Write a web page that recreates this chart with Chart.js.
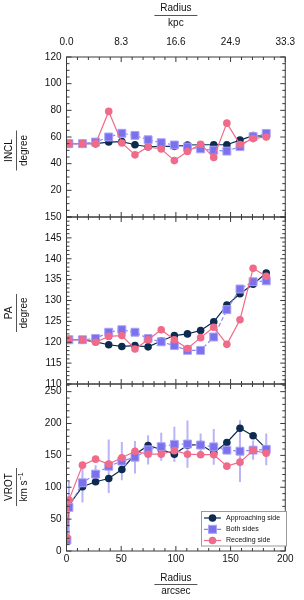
<!DOCTYPE html>
<html><head><meta charset="utf-8">
<script src="https://cdn.jsdelivr.net/npm/chart.js@4.4.1/dist/chart.umd.min.js"></script>
<style>html,body{margin:0;padding:0;background:#fff;}#wrap{width:304px;height:600px;position:relative;}</style>
</head><body><div id="wrap"><canvas id="c" width="304" height="600"></canvas></div>
<script>
// ---- data ----
const radiusArcsec = [0.4, 2.2, 14.6, 26.6, 38.6, 50.6, 62.6, 74.6, 86.6, 98.6, 110.6, 122.6, 134.6, 146.6, 158.6, 170.6, 182.6];
const inclApproaching = [55, 55, 55, 55, 56.2, 56.5, 54.2, 52.7, 53, 53, 54, 54.2, 54.2, 54.2, 57.7, 61, 60.5];
const inclBoth        = [55, 55, 55, 56.2, 60, 62.8, 61.2, 57.9, 55.7, 54, 52.5, 51.1, 50.1, 49.4, 52.8, 60.3, 62.7];
const inclReceding    = [55, 55, 55, 55, 79.2, 55.5, 46.6, 52.5, 51, 42.3, 49.1, 54.6, 44.7, 70.4, 54.4, 58.8, 60];
const paApproaching = [120.6, 120.6, 120.6, 120.1, 119.4, 119.0, 119.2, 118.9, 120.3, 121.6, 122.0, 122.8, 124.9, 128.9, 131.6, 133.9, 136.6];
const paBoth        = [120.6, 120.6, 120.6, 120.9, 122.4, 123.0, 122.4, 120.9, 120.1, 119.2, 118.05, 118.05, 121.25, 127.8, 132.75, 134.5, 134.7];
const paReceding    = [120.6, 120.6, 120.6, 120.0, 121.4, 121.6, 118.4, 120.6, 123.0, 120.6, 118.5, 121.1, 123.6, 119.5, 125.4, 137.7, 135.8];
const vrotApproaching = [20, 72, 100.8, 108.6, 113.8, 127.9, 151.4, 165.5, 159.2, 151.9, 166, 167, 154, 170.2, 192.6, 180.9, 160.5];
const vrotBoth        = [17, 68.4, 107, 120.6, 133, 141, 147.2, 158.7, 163.7, 167.3, 167.8, 166.2, 163.4, 158.2, 156.6, 158.2, 159.5];
const vrotReceding    = [21, 80, 134.7, 144.1, 136.3, 146.2, 156.4, 151.9, 151.9, 157.4, 151.9, 151.1, 151.1, 133.1, 139.4, 157.9, 153.3];
const vrotBothErr     = [5, 42, 31, 14, 42, 30, 25.5, 23, 22, 27.5, 37, 18, 28, 7, 48.5, 15, 25];

const xTicks = [0, 50, 100, 150, 200];
const xTopTickLabels = ['0.0', '8.3', '16.6', '24.9', '33.3'];
const inclTicks = [20, 40, 60, 80, 100, 120];
const paTicks = [110, 115, 120, 125, 130, 135, 140, 145, 150];
const vrotTicks = [0, 50, 100, 150, 200, 250];
const seriesNames = ['Approaching side', 'Both sides', 'Receding side'];

// ---- style ----
const FONT = '"Liberation Sans", Arial, Helvetica, sans-serif';
const C_APP = '#0c2b4f', C_BOTH = '#7b70ee', C_BOTH_LINE = '#8d84f2', C_BOTH_EDGE = '#aaa4f6', C_REC = '#f06b8a';
const C_ERR = 'rgba(128,118,240,0.55)';
const C_FRAME = '#3a3a3a';

function pts(arr) { return radiusArcsec.map((r, i) => ({ x: r, y: arr[i] })); }
function dsApp(arr, axis) { return { label: seriesNames[0], data: pts(arr), yAxisID: axis, xAxisID: 'x', borderColor: C_APP, backgroundColor: C_APP, pointBackgroundColor: C_APP, pointBorderColor: C_APP, pointRadius: 3.8, pointBorderWidth: 0, borderWidth: 1.2, order: 3 }; }
function dsBoth(arr, axis) { return { label: seriesNames[1], data: pts(arr), yAxisID: axis, xAxisID: 'x', borderColor: C_BOTH_LINE, borderDash: [4, 2.5], backgroundColor: C_BOTH, pointStyle: 'rect', pointBackgroundColor: C_BOTH, pointBorderColor: C_BOTH_EDGE, pointRadius: 5.6, pointBorderWidth: 1, borderWidth: 1.2, order: 2 }; }
function dsRec(arr, axis) { return { label: seriesNames[2], data: pts(arr), yAxisID: axis, xAxisID: 'x', borderColor: C_REC, backgroundColor: C_REC, pointBackgroundColor: C_REC, pointBorderColor: C_REC, pointRadius: 3.8, pointBorderWidth: 0, borderWidth: 1.2, order: 1 }; }

function yScale(min, max, ticks, weight) {
  return {
    type: 'linear', position: 'left', stack: 'panels', stackWeight: weight, min: min, max: max, offset: false,
    grid: { display: false, drawTicks: false, tickLength: 0 }, border: { display: false },
    ticks: { font: { family: FONT, size: 10 }, color: '#111', padding: 5, autoSkip: false },
    afterBuildTicks: s => { s.ticks = ticks.map(v => ({ value: v })); },
    afterFit: s => { s.width = 66.5; }
  };
}

function minorList(min, max, step, majors) {
  const out = [];
  for (let v = min; v <= max + 1e-9; v += step) { const r = Math.round(v * 100) / 100; if (!majors.includes(r)) out.push(r); }
  return out;
}

const panelPlugin = {
  id: 'panels',
  beforeDatasetsDraw(chart) {
    const ctx = chart.ctx, xs = chart.scales.x, ys = chart.scales.yVrot, ca = chart.chartArea;
    ctx.save();
    ctx.beginPath(); ctx.rect(ca.left, ys.top, ca.right - ca.left, ys.bottom - ys.top); ctx.clip();
    ctx.strokeStyle = C_ERR; ctx.lineWidth = 2;
    radiusArcsec.forEach((r, i) => {
      const px = xs.getPixelForValue(r);
      ctx.beginPath();
      ctx.moveTo(px, ys.getPixelForValue(vrotBoth[i] - vrotBothErr[i]));
      ctx.lineTo(px, ys.getPixelForValue(vrotBoth[i] + vrotBothErr[i]));
      ctx.stroke();
    });
    ctx.restore();
  },
  afterDraw(chart) {
    const ctx = chart.ctx, xs = chart.scales.x, ca = chart.chartArea;
    const xMinor = minorList(0, 200, 10, xTicks);
    const panels = [
      { s: chart.scales.yIncl, major: inclTicks.concat([0]), minor: minorList(0, 120, 5, inclTicks.concat([0])) },
      { s: chart.scales.yPa, major: paTicks, minor: minorList(110, 150, 1, paTicks) },
      { s: chart.scales.yVrot, major: vrotTicks, minor: minorList(0, 260, 10, vrotTicks) }
    ];
    ctx.save();
    ctx.strokeStyle = C_FRAME; ctx.lineWidth = 1;
    panels.forEach(p => {
      const top = p.s.top, bot = p.s.bottom, L = ca.left, R = ca.right;
      ctx.strokeRect(L, top, R - L, bot - top);
      ctx.beginPath();
      const yT = (v, len) => { const y = p.s.getPixelForValue(v); if (y < top - 0.1 || y > bot + 0.1) return; ctx.moveTo(L, y); ctx.lineTo(L + len, y); ctx.moveTo(R, y); ctx.lineTo(R - len, y); };
      p.major.forEach(v => yT(v, 5)); p.minor.forEach(v => yT(v, 3));
      const xT = (v, len) => { const x = xs.getPixelForValue(v); ctx.moveTo(x, top); ctx.lineTo(x, top + len); ctx.moveTo(x, bot); ctx.lineTo(x, bot - len); };
      xTicks.forEach(v => xT(v, 5)); xMinor.forEach(v => xT(v, 3));
      ctx.stroke();
    });
    // axis titles
    ctx.fillStyle = '#111'; ctx.textAlign = 'center'; ctx.textBaseline = 'middle';
    ctx.font = '10px ' + FONT;
    const cx = (ca.left + ca.right) / 2;
    ctx.fillText('Radius', cx, 8.5); ctx.fillText('kpc', cx, 23);
    ctx.fillText('Radius', cx, 578); ctx.fillText('arcsec', cx, 591);
    ctx.strokeStyle = '#555'; ctx.lineWidth = 1;
    ctx.beginPath(); ctx.moveTo(cx - 21.5, 15.5); ctx.lineTo(cx + 21.5, 15.5); ctx.moveTo(cx - 21.5, 584.5); ctx.lineTo(cx + 21.5, 584.5); ctx.stroke();
    const vt = (main, unit, cy, len, sup) => {
      ctx.save(); ctx.translate(9.5, cy); ctx.rotate(-Math.PI / 2); ctx.font = '10px ' + FONT; ctx.textAlign = 'center'; ctx.fillText(main, 0, 0); ctx.restore();
      ctx.beginPath(); ctx.moveTo(16.5, cy - len / 2); ctx.lineTo(16.5, cy + len / 2); ctx.stroke();
      ctx.save(); ctx.translate(24, cy); ctx.rotate(-Math.PI / 2); ctx.font = '10px ' + FONT;
      if (sup) {
        const w1 = ctx.measureText(unit).width; ctx.font = '7px ' + FONT; const w2 = ctx.measureText(sup).width;
        const st = -(w1 + w2) / 2; ctx.textAlign = 'left';
        ctx.font = '10px ' + FONT; ctx.fillText(unit, st, 0);
        ctx.font = '7px ' + FONT; ctx.fillText(sup, st + w1, -3);
      } else { ctx.textAlign = 'center'; ctx.fillText(unit, 0, 0); }
      ctx.restore();
    };
    vt('INCL', 'degree', 150.5, 40);
    vt('PA', 'degree', 313, 38);
    vt('VROT', 'km s', 487, 38, '\u22121');
    // legend
    const lx = 201.5, ly = 511.5, lw = 85, lh = 34.5;
    ctx.fillStyle = '#fff'; ctx.fillRect(lx, ly, lw, lh);
    ctx.strokeStyle = '#9a9a9a'; ctx.strokeRect(lx, ly, lw, lh);
    const rows = [518, 529.3, 540.5];
    const styles = [
      { c: C_APP, dash: [], shape: 'circle', fill: C_APP },
      { c: C_BOTH_LINE, dash: [4, 2.5], shape: 'rect', fill: C_BOTH },
      { c: C_REC, dash: [], shape: 'circle', fill: C_REC }
    ];
    rows.forEach((y, i) => {
      const st = styles[i];
      ctx.save(); ctx.strokeStyle = st.c; ctx.lineWidth = 1.2; ctx.setLineDash(st.dash);
      ctx.beginPath(); ctx.moveTo(204, y); ctx.lineTo(221, y); ctx.stroke(); ctx.restore();
      ctx.fillStyle = st.fill;
      if (st.shape === 'circle') { ctx.beginPath(); ctx.arc(212.5, y, 3.8, 0, Math.PI * 2); ctx.fill(); }
      else { ctx.fillRect(208.5, y - 4, 8, 8); ctx.strokeStyle = C_BOTH_EDGE; ctx.strokeRect(208.5, y - 4, 8, 8); }
      ctx.fillStyle = '#111'; ctx.font = '7px ' + FONT; ctx.textAlign = 'left'; ctx.textBaseline = 'middle';
      ctx.fillText(seriesNames[i], 226, y);
    });
    ctx.restore();
  }
};

new Chart(document.getElementById('c'), {
  type: 'line',
  data: { datasets: [
    dsApp(inclApproaching, 'yIncl'), dsBoth(inclBoth, 'yIncl'), dsRec(inclReceding, 'yIncl'),
    dsApp(paApproaching, 'yPa'), dsBoth(paBoth, 'yPa'), dsRec(paReceding, 'yPa'),
    dsApp(vrotApproaching, 'yVrot'), dsBoth(vrotBoth, 'yVrot'), dsRec(vrotReceding, 'yVrot')
  ] },
  options: {
    responsive: false, animation: false, devicePixelRatio: 1,
    layout: { padding: { left: 0, right: 13.5, top: 0, bottom: 0 } },
    plugins: { legend: { display: false }, tooltip: { enabled: false } },
    scales: {
      x: { type: 'linear', position: 'bottom', min: 0, max: 200,
        grid: { display: false, drawTicks: false, tickLength: 0 }, border: { display: false },
        ticks: { font: { family: FONT, size: 10 }, color: '#111', padding: 2, maxRotation: 0, autoSkip: false },
        afterBuildTicks: s => { s.ticks = xTicks.map(v => ({ value: v })); },
        afterFit: s => { s.height = 49; } },
      x2: { type: 'linear', position: 'top', min: 0, max: 200,
        grid: { display: false, drawTicks: false, tickLength: 0 }, border: { display: false },
        ticks: { font: { family: FONT, size: 10 }, color: '#111', padding: 9, maxRotation: 0, autoSkip: false,
          callback: (v, i) => xTopTickLabels[i] },
        afterBuildTicks: s => { s.ticks = xTicks.map(v => ({ value: v })); },
        afterFit: s => { s.height = 57; } },
      yVrot: yScale(0, 262, vrotTicks, 167),
      yPa: yScale(110, 150, paTicks, 167),
      yIncl: yScale(0, 120, inclTicks, 160)
    }
  },
  plugins: [panelPlugin]
});
</script></body></html>
